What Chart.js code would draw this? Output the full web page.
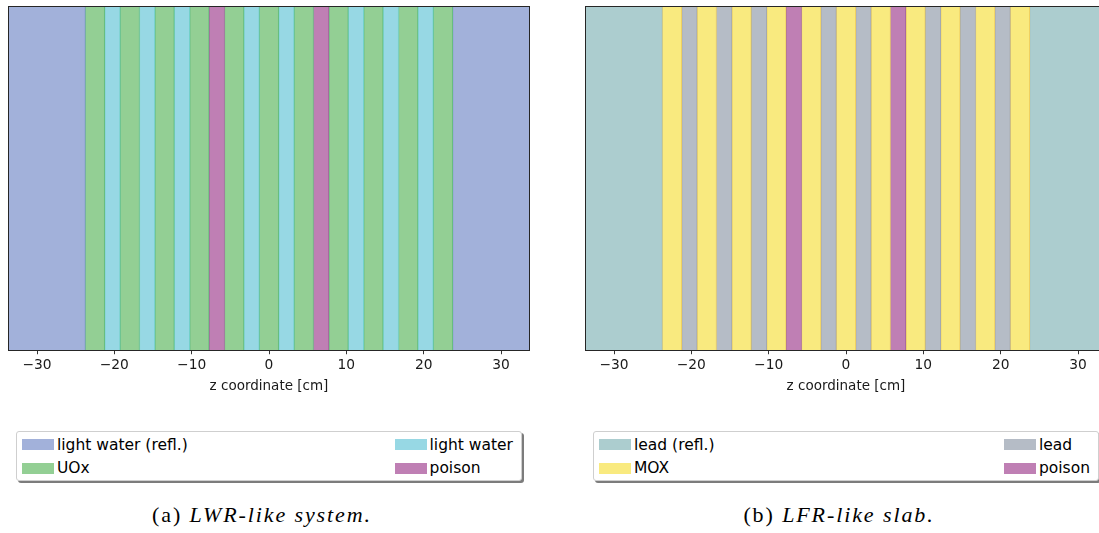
<!DOCTYPE html>
<html>
<head>
<meta charset="utf-8">
<script src="https://cdn.jsdelivr.net/npm/chart.js@4.4.1/dist/chart.umd.min.js"></script>
<style>
  html, body { margin: 0; padding: 0; background: #fff; width: 1099px; height: 533px; overflow: hidden; }
  .panel { position: absolute; top: 0; width: 545px; height: 533px; }
  .panel canvas { position: absolute; left: 0; top: 0; }
  .legend {
    position: absolute; left: 16px; top: 431px; width: 506px; height: 50px;
    border: 1px solid #cfcfcf; border-radius: 3px; background: #fff;
    box-shadow: 2px 2px 0 #7c7c7c;
    display: flex; justify-content: space-between;
    padding: 1px 8px 0 5px; box-sizing: border-box;
    font-family: "DejaVu Sans", sans-serif; font-size: 15.5px; color: #000;
  }
  .legend .col { display: flex; flex-direction: column; }
  .legend .item { display: flex; align-items: center; height: 23.5px; white-space: nowrap; }
  .legend .patch { width: 32px; height: 11px; margin-right: 3px; }
  .caption {
    position: absolute; top: 502px; left: 0; width: 524px; text-align: center;
    font-family: "Liberation Serif", "DejaVu Serif", serif; font-size: 22px; color: #000;
    letter-spacing: 1.9px;
  }
</style>
</head>
<body>
<div class="panel" id="panelA" style="left:0px">
  <canvas id="lwr" width="545" height="400"></canvas>
  <div class="legend" id="legendA"></div>
  <div class="caption">(a) <i>LWR-like system.</i></div>
</div>
<div class="panel" id="panelB" style="left:577px">
  <canvas id="lfr" width="545" height="400"></canvas>
  <div class="legend" id="legendB"></div>
  <div class="caption">(b) <i>LFR-like slab.</i></div>
</div>
<script>
// region boundaries along z [cm], shared by both slabs
const zEdges = [-33.75, -23.75, -21.25, -19.25, -16.75, -14.75, -12.25, -10.25, -7.75, -5.75, -3.25,
                -1.25, 1.25, 3.25, 5.75, 7.75, 10.25, 12.25, 14.75, 16.75, 19.25, 21.25, 23.75, 33.75];
const zTicks = [-30, -20, -10, 0, 10, 20, 30];

// material of each region, left to right
const lwrRegions = ['light water (refl.)', 'UOx', 'light water', 'UOx', 'light water', 'UOx', 'light water',
                    'UOx', 'poison', 'UOx', 'light water', 'UOx', 'light water', 'UOx', 'poison', 'UOx',
                    'light water', 'UOx', 'light water', 'UOx', 'light water', 'UOx', 'light water (refl.)'];
const lfrRegions = ['lead (refl.)', 'MOX', 'lead', 'MOX', 'lead', 'MOX', 'lead',
                    'MOX', 'poison', 'MOX', 'lead', 'MOX', 'lead', 'MOX', 'poison', 'MOX',
                    'lead', 'MOX', 'lead', 'MOX', 'lead', 'MOX', 'lead (refl.)'];

// legend order (matplotlib ncol=2 fills column-wise)
const lwrLegend = ['light water (refl.)', 'UOx', 'light water', 'poison'];
const lfrLegend = ['lead (refl.)', 'MOX', 'lead', 'poison'];

const materialStyle = {
    'light water (refl.)': { fill: '#a2b1da', edge: '#8a9dd2' },
    'UOx':                 { fill: '#93cf94', edge: '#67bd7f' },
    'light water':         { fill: '#97d8e4', edge: '#6fcfc6' },
    'poison':              { fill: '#bf7fb4', edge: '#a2619a' },
    'lead (refl.)':        { fill: '#accdcf', edge: '#9fc2c4' },
    'MOX':                 { fill: '#f9ea7f', edge: '#f0d060' },
    'lead':                { fill: '#b5bcc6', edge: '#a3a8ac' },
};

const frame = {
    id: 'frame',
    afterDatasetsDraw(chart) {
        const { ctx, chartArea: a } = chart;
        ctx.save();
        ctx.strokeStyle = '#262626';
        ctx.lineWidth = 1;
        ctx.strokeRect(Math.round(a.left) + 0.5, Math.round(a.top) + 0.5,
                       Math.round(a.right - a.left) - 1, Math.round(a.bottom - a.top));
        ctx.restore();
    },
};

const minus = (v) => (v < 0 ? '\u2212' + Math.abs(v) : String(v));

function slabChart(canvas, regions) {
    return new Chart(canvas, {
        type: 'bar',
        data: {
            labels: [''],
            datasets: regions.map((m, i) => ({
                label: m,
                data: [[zEdges[i], zEdges[i + 1]]],
                backgroundColor: materialStyle[m].fill,
                borderColor: materialStyle[m].edge,
                borderWidth: { left: 1, right: 1, top: 0, bottom: 0 },
                borderSkipped: false,
                grouped: false,
                barPercentage: 1,
                categoryPercentage: 1,
            })),
        },
        options: {
            indexAxis: 'y',
            responsive: false,
            animation: false,
            layout: { padding: { left: 8, top: 6, right: 15, bottom: 1 } },
            plugins: { legend: { display: false }, tooltip: { enabled: false } },
            scales: {
                y: { display: false },
                x: {
                    type: 'linear',
                    min: zEdges[0],
                    max: zEdges[zEdges.length - 1],
                    afterBuildTicks: (scale) => { scale.ticks = zTicks.map(v => ({ value: v })); },
                    grid: { drawOnChartArea: false, drawTicks: true, tickLength: 4, color: '#333' },
                    border: { display: false },
                    ticks: {
                        color: '#1a1a1a', padding: 3,
                        font: { family: 'DejaVu Sans', size: 13.8 },
                        callback: (v) => minus(v),
                    },
                    title: {
                        display: true, text: 'z coordinate [cm]', color: '#1a1a1a',
                        font: { family: 'DejaVu Sans', size: 13.5 },
                        padding: { top: 2, bottom: 4 },
                    },
                },
            },
        },
        plugins: [frame],
    });
}

function buildLegend(el, items) {
    const half = Math.ceil(items.length / 2);
    [items.slice(0, half), items.slice(half)].forEach(group => {
        const col = document.createElement('div');
        col.className = 'col';
        group.forEach(m => {
            const it = document.createElement('div');
            it.className = 'item';
            const p = document.createElement('span');
            p.className = 'patch';
            p.style.background = materialStyle[m].fill;
            it.appendChild(p);
            it.appendChild(document.createTextNode(m));
            col.appendChild(it);
        });
        el.appendChild(col);
    });
}

slabChart(document.getElementById('lwr'), lwrRegions);
slabChart(document.getElementById('lfr'), lfrRegions);
buildLegend(document.getElementById('legendA'), lwrLegend);
buildLegend(document.getElementById('legendB'), lfrLegend);
</script>
</body>
</html>
